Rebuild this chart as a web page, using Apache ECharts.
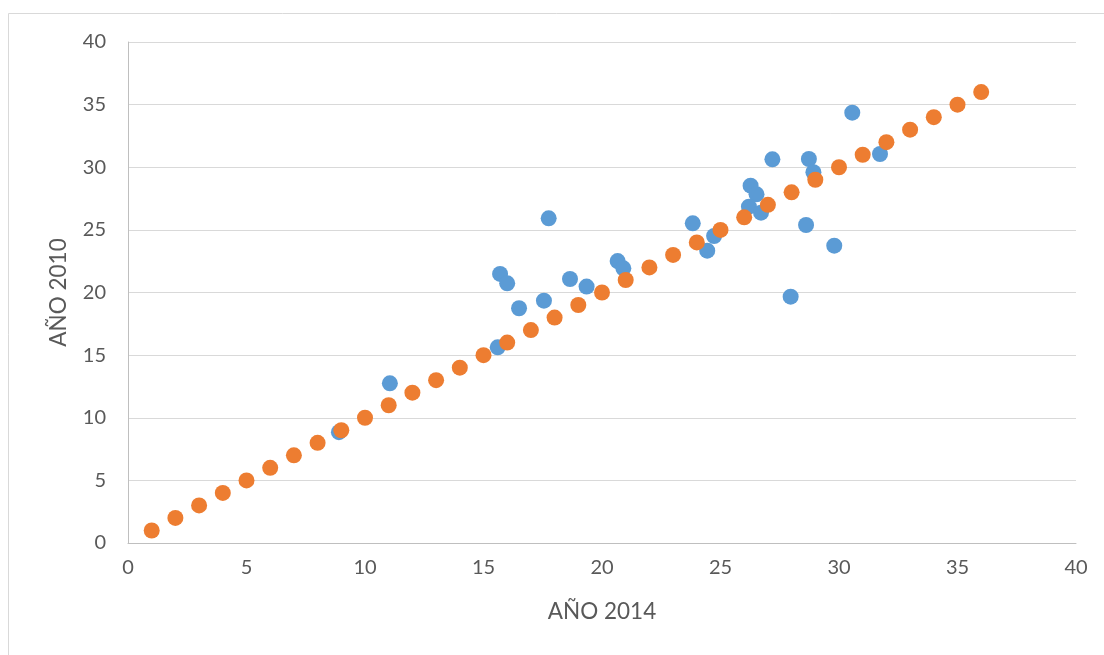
<!DOCTYPE html>
<html>
<head>
<meta charset="utf-8">
<title>AÑO 2014 vs AÑO 2010</title>
<script src="https://cdn.jsdelivr.net/npm/echarts@6/dist/echarts.min.js"></script>
<style>
  html, body { margin: 0; padding: 0; background: #ffffff; }
  #chart { width: 1104px; height: 655px; }
</style>
</head>
<body>
<div id="chart"></div>
<script>
// Observed pairs: value in 2014 (x) and value in 2010 (y)
const observedX2014 = [8.9, 11.05, 15.6, 15.7, 16.0, 16.5, 17.55, 17.75, 18.65, 19.35,
  20.66, 20.9, 23.83, 24.44, 24.73, 26.27, 26.52, 26.2, 26.71, 27.19,
  27.96, 28.61, 28.73, 28.92, 29.8, 30.56, 31.73];
const observedY2010 = [8.85, 12.75, 15.62, 21.48, 20.73, 18.74, 19.35, 25.92, 21.08, 20.47,
  22.51, 21.93, 25.52, 23.34, 24.51, 28.53, 27.84, 26.85, 26.37, 30.63,
  19.67, 25.39, 30.66, 29.6, 23.74, 34.36, 31.06];

// Reference diagonal (y = x) points
const diagonalX = [];
const diagonalY = [];
for (let i = 1; i <= 36; i++) { diagonalX.push(i); diagonalY.push(i); }

// Axis settings
const axisMin = 0;
const axisMax = 40;
const axisStep = 5;
const xAxisTitle = 'AÑO 2014';
const yAxisTitle = 'AÑO 2010';

const zip = (xs, ys) => xs.map((x, i) => [x, ys[i]]);

const textColor = '#595959';
const fontFamily = 'Lato, "Open Sans", sans-serif';

const chart = echarts.init(document.getElementById('chart'), null, { renderer: 'canvas' });
chart.setOption({
  animation: false,
  backgroundColor: '#ffffff',
  graphic: [{
    type: 'rect',
    shape: { x: 8.5, y: 13.5, width: 1200, height: 700 },
    style: { fill: null, stroke: '#d9d9d9', lineWidth: 1 },
    silent: true
  }],
  grid: { left: 128, top: 42, right: 28, bottom: 112, containLabel: false },
  xAxis: {
    type: 'value',
    min: axisMin, max: axisMax, interval: axisStep,
    name: xAxisTitle,
    nameLocation: 'middle',
    nameGap: 57,
    nameTextStyle: { color: textColor, fontSize: 22.5, fontFamily },
    axisLine: { show: true, lineStyle: { color: '#bfbfbf', width: 1 } },
    axisTick: { show: false },
    splitLine: { show: false },
    axisLabel: { color: textColor, fontSize: 20, fontFamily, margin: 15 }
  },
  yAxis: {
    type: 'value',
    min: axisMin, max: axisMax, interval: axisStep,
    name: yAxisTitle,
    nameLocation: 'middle',
    nameGap: 58,
    nameRotate: 90,
    nameTextStyle: { color: textColor, fontSize: 22.5, fontFamily },
    axisLine: { show: true, lineStyle: { color: '#bfbfbf', width: 1 } },
    axisTick: { show: false },
    splitLine: { show: true, lineStyle: { color: '#d9d9d9', width: 1 } },
    axisLabel: { color: textColor, fontSize: 20, fontFamily, margin: 22 }
  },
  series: [
    {
      type: 'scatter',
      data: zip(observedX2014, observedY2010),
      symbol: 'circle',
      symbolSize: 16,
      itemStyle: { color: '#5b9bd5', opacity: 1 },
      z: 2
    },
    {
      type: 'scatter',
      data: zip(diagonalX, diagonalY),
      symbol: 'circle',
      symbolSize: 16,
      itemStyle: { color: '#ed7d31', opacity: 1 },
      z: 3
    }
  ]
});
</script>
</body>
</html>
